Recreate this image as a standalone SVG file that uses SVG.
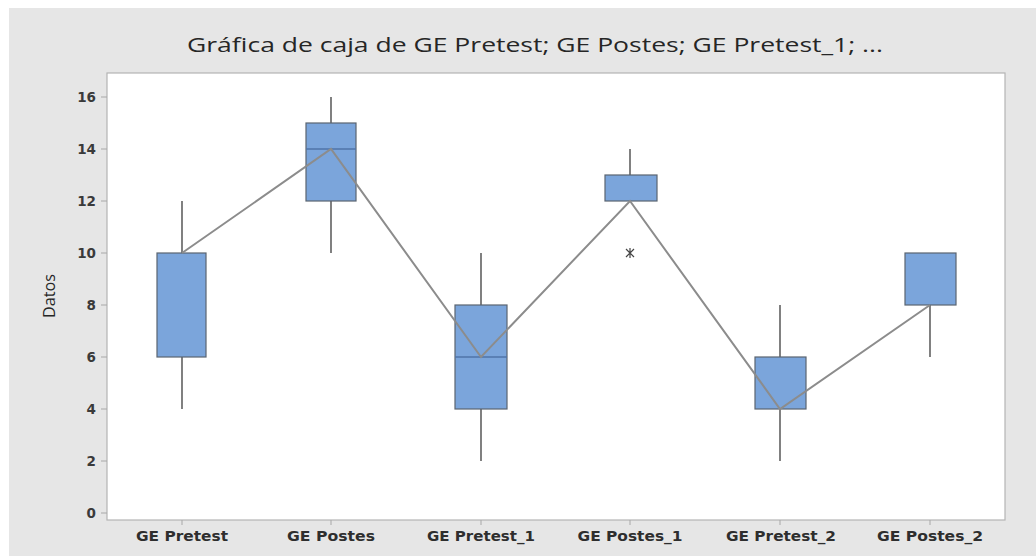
<svg xmlns="http://www.w3.org/2000/svg" width="1036" height="556" viewBox="0 0 1036 556">
<style>
.box{fill:#7ba5db;stroke:#5a6470;stroke-width:1.2}
.med{stroke:#4f74a8;stroke-width:1.5}
.wh{stroke:#3d3d3d;stroke-width:1.3}
.tk{stroke:#a8a8a8;stroke-width:1}
.yl{font-family:"DejaVu Sans","Liberation Sans",sans-serif;font-weight:bold;font-size:13.5px;fill:#3a3a3a;text-anchor:end}
.xl{font-family:"DejaVu Sans","Liberation Sans",sans-serif;font-weight:bold;font-size:14px;fill:#2e2e2e;text-anchor:middle}
</style>
<rect x="0" y="0" width="1036" height="556" fill="#ffffff"/>
<rect x="9" y="8" width="1027" height="548" fill="#e6e6e6"/>
<rect x="107" y="73" width="898" height="447" fill="#ffffff" stroke="#b4b4b4" stroke-width="1.2"/>
<text x="535" y="52" font-family="Open Sans,Liberation Sans,sans-serif" font-size="20" fill="#262626" text-anchor="middle" textLength="696" lengthAdjust="spacingAndGlyphs">Gráfica de caja de GE Pretest; GE Postes; GE Pretest_1; ...</text>
<g id="yaxis">
<line class="tk" x1="101" y1="97" x2="107" y2="97"/><text class="yl" x="96" y="102">16</text>
<line class="tk" x1="101" y1="149" x2="107" y2="149"/><text class="yl" x="96" y="154">14</text>
<line class="tk" x1="101" y1="201" x2="107" y2="201"/><text class="yl" x="96" y="206">12</text>
<line class="tk" x1="101" y1="253" x2="107" y2="253"/><text class="yl" x="96" y="258">10</text>
<line class="tk" x1="101" y1="305" x2="107" y2="305"/><text class="yl" x="96" y="310">8</text>
<line class="tk" x1="101" y1="357" x2="107" y2="357"/><text class="yl" x="96" y="362">6</text>
<line class="tk" x1="101" y1="409" x2="107" y2="409"/><text class="yl" x="96" y="414">4</text>
<line class="tk" x1="101" y1="461" x2="107" y2="461"/><text class="yl" x="96" y="466">2</text>
<line class="tk" x1="101" y1="513" x2="107" y2="513"/><text class="yl" x="96" y="518">0</text>
<text x="0" y="0" transform="translate(55,296) rotate(-90)" font-family="Open Sans,Liberation Sans,sans-serif" font-size="17" fill="#262626" text-anchor="middle" textLength="44" lengthAdjust="spacingAndGlyphs">Datos</text>
</g>
<g id="xaxis">
<line class="tk" x1="182" y1="520" x2="182" y2="525"/><text class="xl" x="182" y="541" textLength="92" lengthAdjust="spacingAndGlyphs">GE Pretest</text>
<line class="tk" x1="331" y1="520" x2="331" y2="525"/><text class="xl" x="331" y="541" textLength="88" lengthAdjust="spacingAndGlyphs">GE Postes</text>
<line class="tk" x1="481" y1="520" x2="481" y2="525"/><text class="xl" x="481" y="541" textLength="108" lengthAdjust="spacingAndGlyphs">GE Pretest_1</text>
<line class="tk" x1="630" y1="520" x2="630" y2="525"/><text class="xl" x="630" y="541" textLength="105" lengthAdjust="spacingAndGlyphs">GE Postes_1</text>
<line class="tk" x1="780" y1="520" x2="780" y2="525"/><text class="xl" x="781" y="541" textLength="110" lengthAdjust="spacingAndGlyphs">GE Pretest_2</text>
<line class="tk" x1="930" y1="520" x2="930" y2="525"/><text class="xl" x="930" y="541" textLength="106" lengthAdjust="spacingAndGlyphs">GE Postes_2</text>
</g>
<g id="box-ge-pretest">
<line class="wh" x1="182" y1="201" x2="182" y2="253"/><line class="wh" x1="182" y1="357" x2="182" y2="409"/>
<rect class="box" x="157" y="253" width="49" height="104"/>
</g>
<g id="box-ge-postes">
<line class="wh" x1="331" y1="97" x2="331" y2="123"/><line class="wh" x1="331" y1="201" x2="331" y2="253"/>
<rect class="box" x="306" y="123" width="50" height="78"/>
<line class="med" x1="306" y1="149" x2="356" y2="149"/>
</g>
<g id="box-ge-pretest-1">
<line class="wh" x1="481" y1="253" x2="481" y2="305"/><line class="wh" x1="481" y1="409" x2="481" y2="461"/>
<rect class="box" x="455" y="305" width="52" height="104"/>
<line class="med" x1="455" y1="357" x2="507" y2="357"/>
</g>
<g id="box-ge-postes-1">
<line class="wh" x1="630" y1="149" x2="630" y2="175"/>
<rect class="box" x="605" y="175" width="52" height="26"/>
<path d="M626,249 L634,257 M634,249 L626,257 M630,248 L630,258" stroke="#444" stroke-width="1.2" fill="none"/>
</g>
<g id="box-ge-pretest-2">
<line class="wh" x1="780" y1="305" x2="780" y2="357"/><line class="wh" x1="780" y1="409" x2="780" y2="461"/>
<rect class="box" x="755" y="357" width="51" height="52"/>
</g>
<g id="box-ge-postes-2">
<line class="wh" x1="930" y1="305" x2="930" y2="357"/>
<rect class="box" x="905" y="253" width="51" height="52"/>
</g>
<g id="connectors">
<polyline points="182,253 331,149 481,357 630,201 780,409 930,305" fill="none" stroke="#8c8c8c" stroke-width="2"/>
</g>
</svg>
